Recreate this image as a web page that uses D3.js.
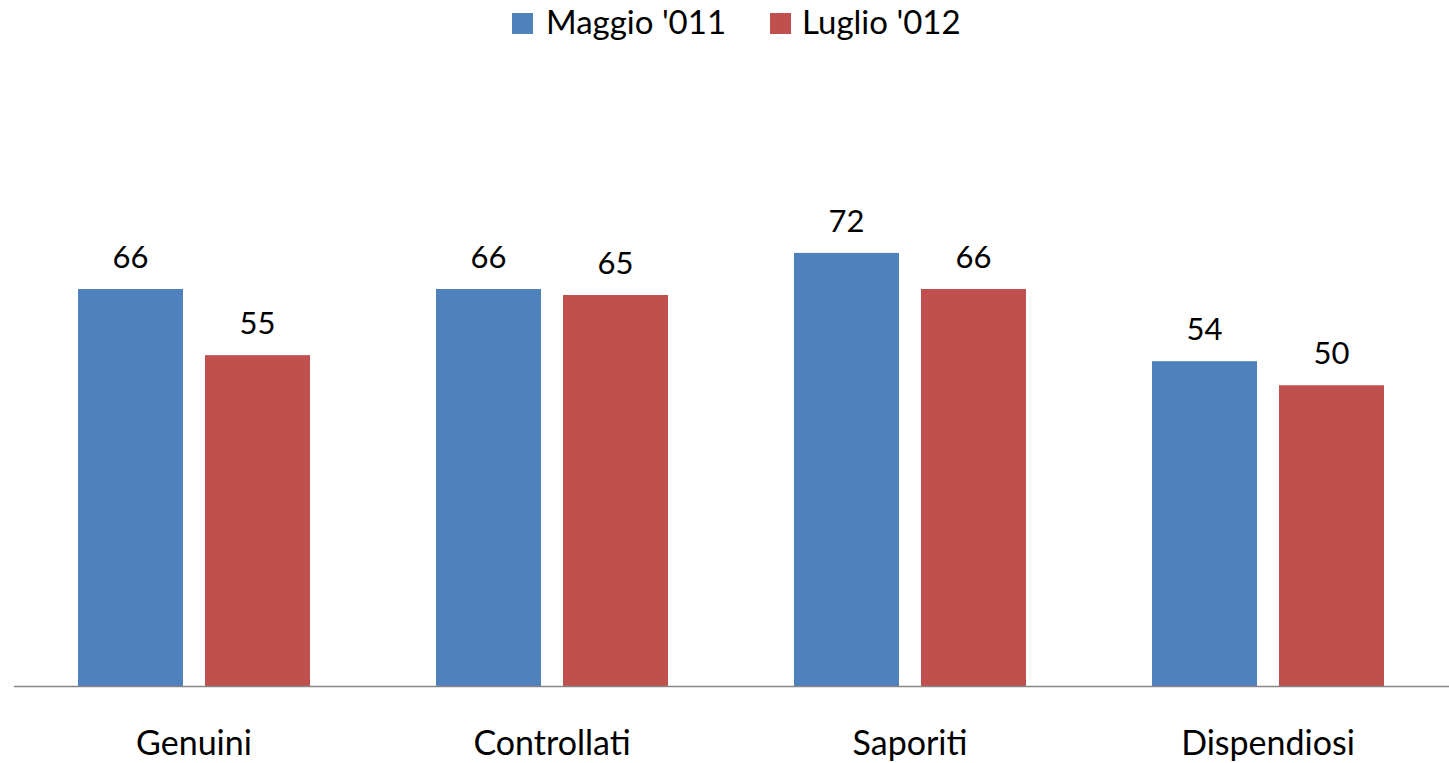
<!DOCTYPE html>
<html><head><meta charset="utf-8">
<script src="https://cdn.jsdelivr.net/npm/d3@7"></script>
<style>html,body{margin:0;padding:0;background:#fff;}svg{display:block;}</style>
</head><body>
<svg id="chart" width="1449" height="763"></svg>
<script>
const categories = ["Genuini", "Controllati", "Saporiti", "Dispendiosi"];
const seriesNames = ["Maggio '011", "Luglio '012"];
const maggio = [66, 66, 72, 54];
const luglio = [55, 65, 66, 50];
const colors = ["#4F81BD", "#C0504D"];

const font = "Lato, 'Open Sans', sans-serif";
const svg = d3.select("#chart");
const x0 = 15, x1 = 1447, baseY = 686;

const x = d3.scaleBand().domain(categories).range([x0, x1]).paddingInner(0).paddingOuter(0);
const y = d3.scaleLinear().domain([0, 66]).range([baseY, 289]);
const xs = d3.scaleBand().domain(seriesNames).range([0, 232]).paddingInner(22 / 127).paddingOuter(0);

const data = categories.map((c, i) => ({c, vals: [maggio[i], luglio[i]]}));

const groups = svg.append("g").selectAll("g.grp").data(data).join("g")
  .attr("transform", d => `translate(${x(d.c) + (x.bandwidth() - 232) / 2},0)`);

groups.selectAll("rect").data(d => d.vals.map((v, k) => ({v, k}))).join("rect")
  .attr("x", d => xs(seriesNames[d.k]))
  .attr("width", xs.bandwidth())
  .attr("y", d => y(d.v))
  .attr("height", d => baseY - y(d.v))
  .attr("fill", d => colors[d.k]);

groups.selectAll("text").data(d => d.vals.map((v, k) => ({v, k}))).join("text")
  .attr("x", d => xs(seriesNames[d.k]) + xs.bandwidth() / 2)
  .attr("y", d => y(d.v) - 21)
  .attr("text-anchor", "middle")
  .style("font-family", font).style("font-size", "31px").attr("fill", "#000")
  .text(d => d.v);

// x axis
const axis = d3.axisBottom(x).tickSize(0).tickPadding(0);
const ax = svg.append("g").attr("transform", `translate(0,${baseY})`).call(axis);
ax.select(".domain").remove();
ax.selectAll("text").attr("y", 0).attr("dy", 0)
  .attr("transform", "translate(0,69)")
  .style("font-family", font).style("font-size", "34px").attr("fill", "#000");
svg.append("line").attr("x1", 14).attr("x2", 1449).attr("y1", baseY + 0.5).attr("y2", baseY + 0.5)
  .attr("stroke", "#868686").attr("stroke-width", 1.5);

// legend
const legendItems = [{name: seriesNames[0], sx: 512, tx: 546}, {name: seriesNames[1], sx: 770, tx: 802}];
const lg = svg.append("g");
legendItems.forEach((d, i) => {
  lg.append("rect").attr("x", d.sx).attr("y", 13).attr("width", 21).attr("height", 21).attr("fill", colors[i]);
  lg.append("text").attr("x", d.tx).attr("y", 34)
    .style("font-family", font).style("font-size", "33px").attr("fill", "#000").text(d.name);
});
</script>
</body></html>
